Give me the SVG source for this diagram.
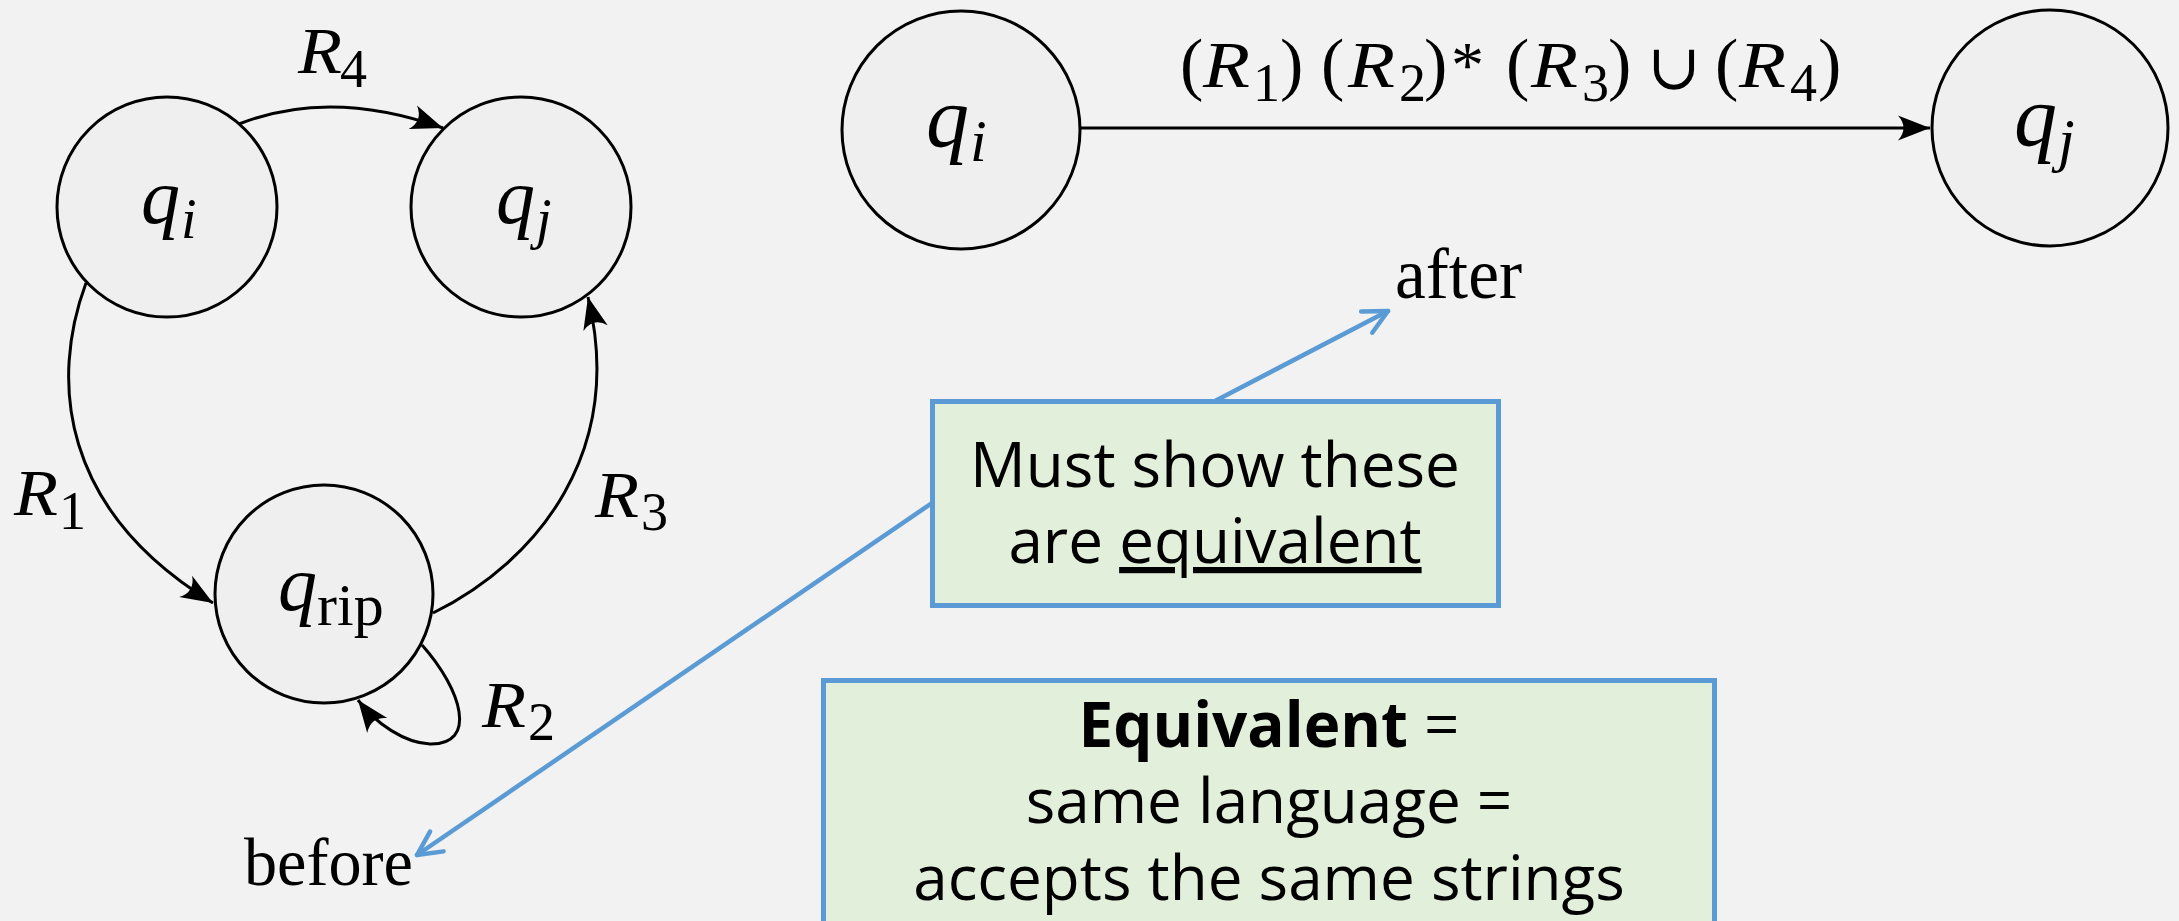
<svg xmlns="http://www.w3.org/2000/svg" width="2179" height="921" viewBox="0 0 2179 921">
<style>
.state{fill:#EFEFEF;stroke:#000;stroke-width:3}
.edge{fill:none;stroke:#000;stroke-width:3}
.note-link{fill:none;stroke:#5B9BD5;stroke-width:4.5;stroke-linecap:round}
.box{fill:#E2EFDA;stroke:#5B9BD5;stroke-width:5}
.math{font-family:"Liberation Serif","DejaVu Serif",serif;fill:#000}
.it{font-style:italic}
.note{font-family:"Open Sans","Noto Sans",sans-serif;font-size:62px;fill:#000;text-anchor:middle}
.word{font-family:"Liberation Serif",serif;fill:#000}
</style>
<defs>
<marker id="ah" markerUnits="userSpaceOnUse" viewBox="-34 -14 36 28" refX="0" refY="0" markerWidth="36" markerHeight="28" orient="auto" overflow="visible">
<path d="M0,0 L-32,-12.5 Q-21,0 -32,12.5 Z" fill="#000"/>
</marker>
<marker id="chev" markerUnits="userSpaceOnUse" viewBox="-30 -16 34 32" refX="0" refY="0" markerWidth="34" markerHeight="32" orient="auto" overflow="visible">
<path d="M-24,-12 L0,0 L-24,12" fill="none" stroke="#5B9BD5" stroke-width="4.5" stroke-linecap="round" stroke-linejoin="round"/>
</marker>
</defs>
<rect x="0" y="0" width="2179" height="921" fill="#F2F2F2"/>

<g id="connectors">
<path class="edge" d="M239,124 Q330,88 443,128" marker-end="url(#ah)"/>
<path class="edge" d="M86,283 C50,380 60,510 213,603" marker-end="url(#ah)"/>
<path class="edge" d="M433,613 C540,560 625,450 588,297" marker-end="url(#ah)"/>
<path class="edge" d="M422,645 C462,690 478,745 430,744 C405,743 376,724 358,700" marker-end="url(#ah)"/>
<path class="edge" d="M1080,128 L1930,128" marker-end="url(#ah)"/>
<path class="note-link" d="M1215,401 L1388,311" marker-end="url(#chev)"/>
<path class="note-link" d="M932,503 L417,855" marker-end="url(#chev)"/>
</g>

<g id="edge-labels">
<text class="math"><tspan class="it" x="298" y="73" font-size="66" textLength="44" lengthAdjust="spacingAndGlyphs">R</tspan><tspan x="340" y="87" font-size="54">4</tspan></text>
<text class="math"><tspan class="it" x="14" y="515" font-size="66" textLength="44" lengthAdjust="spacingAndGlyphs">R</tspan><tspan x="59" y="529" font-size="54">1</tspan></text>
<text class="math"><tspan class="it" x="595" y="517" font-size="66" textLength="44" lengthAdjust="spacingAndGlyphs">R</tspan><tspan x="641" y="530" font-size="54">3</tspan></text>
<text class="math"><tspan class="it" x="482" y="727" font-size="66" textLength="44" lengthAdjust="spacingAndGlyphs">R</tspan><tspan x="528" y="740" font-size="54">2</tspan></text>
<text class="math">
<tspan x="1180" y="87" font-size="70">(</tspan><tspan class="it" x="1203" y="87" font-size="66" textLength="47" lengthAdjust="spacingAndGlyphs">R</tspan><tspan x="1253" y="101" font-size="54">1</tspan><tspan x="1280" y="87" font-size="70">)</tspan>
<tspan x="1321" y="87" font-size="70">(</tspan><tspan class="it" x="1348" y="87" font-size="66" textLength="47" lengthAdjust="spacingAndGlyphs">R</tspan><tspan x="1399" y="101" font-size="54">2</tspan><tspan x="1424" y="87" font-size="70">)</tspan><tspan x="1451" y="87" font-size="66">*</tspan>
<tspan x="1506" y="87" font-size="70">(</tspan><tspan class="it" x="1531" y="87" font-size="66" textLength="47" lengthAdjust="spacingAndGlyphs">R</tspan><tspan x="1582" y="101" font-size="54">3</tspan><tspan x="1608" y="87" font-size="70">)</tspan>
<tspan x="1647" y="89" font-size="64" font-family="DejaVu Serif">∪</tspan>
<tspan x="1715" y="87" font-size="70">(</tspan><tspan class="it" x="1739" y="87" font-size="66" textLength="47" lengthAdjust="spacingAndGlyphs">R</tspan><tspan x="1790" y="101" font-size="54">4</tspan><tspan x="1818" y="87" font-size="70">)</tspan>
</text>
</g>

<g id="node-qi-before">
<circle class="state" cx="167" cy="207" r="110"/>
<text class="math"><tspan class="it" x="141" y="223" font-size="78">q</tspan><tspan class="it" x="181" y="238" font-size="56">i</tspan></text>
</g>
<g id="node-qj-before">
<circle class="state" cx="521" cy="207" r="110"/>
<text class="math"><tspan class="it" x="496" y="223" font-size="78">q</tspan><tspan class="it" x="536" y="238" font-size="56">j</tspan></text>
</g>
<g id="node-qrip">
<circle class="state" cx="324" cy="594" r="109"/>
<text class="math"><tspan class="it" x="278" y="610" font-size="78">q</tspan><tspan x="317" y="625" font-size="60">rip</tspan></text>
</g>
<g id="node-qi-after">
<circle class="state" cx="961" cy="130" r="119"/>
<text class="math"><tspan class="it" x="926" y="146" font-size="86">q</tspan><tspan class="it" x="970" y="161" font-size="60">i</tspan></text>
</g>
<g id="node-qj-after">
<circle class="state" cx="2050" cy="128" r="118"/>
<text class="math"><tspan class="it" x="2014" y="145" font-size="86">q</tspan><tspan class="it" x="2058" y="160" font-size="60">j</tspan></text>
</g>

<g id="label-after">
<text class="word" x="1395" y="298" font-size="72" textLength="127" lengthAdjust="spacingAndGlyphs">after</text>
</g>
<g id="label-before">
<text class="word" x="244" y="885" font-size="68" textLength="169" lengthAdjust="spacingAndGlyphs">before</text>
</g>

<g id="note-equivalent">
<rect class="box" x="932.5" y="401.5" width="566" height="204"/>
<text class="note" x="1215" y="487">Must show these</text>
<text class="note" x="1215" y="563">are <tspan text-decoration="underline">equivalent</tspan></text>
</g>
<g id="note-definition">
<rect class="box" x="823.5" y="680.5" width="891" height="270"/>
<text class="note" x="1269" y="747"><tspan font-weight="bold">Equivalent</tspan> =</text>
<text class="note" x="1269" y="823">same language =</text>
<text class="note" x="1269" y="900">accepts the same strings</text>
</g>
</svg>
